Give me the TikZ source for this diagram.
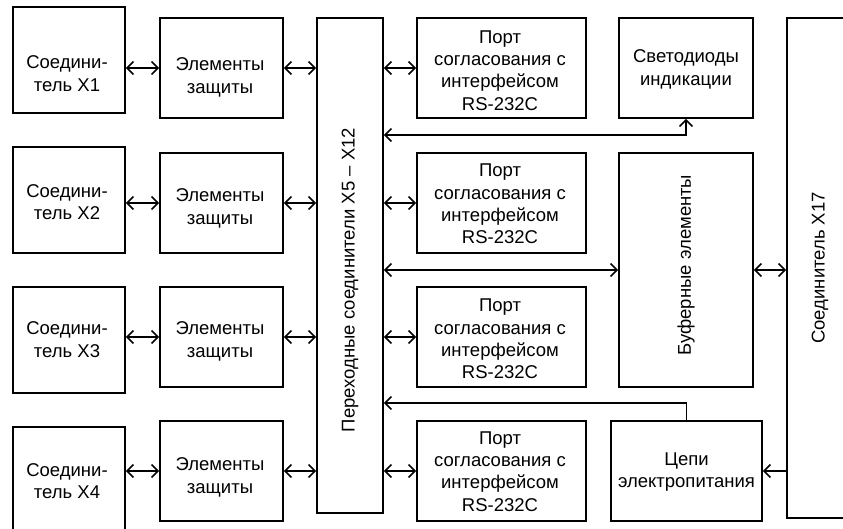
\documentclass[tikz,border=0pt]{standalone}
\usepackage{fontspec}
\setmainfont{Liberation Sans}
\usetikzlibrary{arrows.meta,calc}
\begin{document}
\begin{tikzpicture}[x=1pt,y=-1pt,
  blk/.style 2 args={draw, line width=1.6pt, inner sep=0pt,
                     minimum width=#1, minimum height=#2},
  lbl/.style={font=\fontsize{18.5}{22.3}\selectfont, align=center, inner sep=0pt},
  bi/.style={line width=1.6pt, {Straight Barb[length=6.5pt,width=13pt]}-{Straight Barb[length=6.5pt,width=13pt]}},
  one/.style={line width=1.6pt, -{Straight Barb[length=6.5pt,width=13pt]}}]
\useasboundingbox (0,0) rectangle (843,528);
\clip (0,0) rectangle (843,528);

% connectors X1..X4
\node[blk={112pt}{106pt}] (c1) at (69,60) {};
\node[blk={112pt}{106pt}] (c2) at (69,200) {};
\node[blk={112pt}{106pt}] (c3) at (69,340) {};
\node[blk={112pt}{106pt}] (c4) at (69,480) {};
\node[lbl] (tc1) at (67,73.5) {Соедини-\\тель X1};
\node[lbl] (tc2) at (67,202) {Соедини-\\тель X2};
\node[lbl] (tc3) at (67,339.5) {Соедини-\\тель X3};
\node[lbl] (tc4) at (67,481) {Соедини-\\тель X4};

% protection elements
\node[blk={123pt}{100pt}] (e1) at (221.5,68) {};
\node[blk={123pt}{100pt}] (e2) at (221.5,203) {};
\node[blk={123pt}{100pt}] (e3) at (221.5,337) {};
\node[blk={123pt}{100pt}] (e4) at (221.5,471) {};
\node[lbl] (te1) at (220,77.5) {Элементы\\защиты};
\node[lbl] (te2) at (220,208.5) {Элементы\\защиты};
\node[lbl] (te3) at (220,341.5) {Элементы\\защиты};
\node[lbl] (te4) at (220,477.5) {Элементы\\защиты};

% transition connectors
\node[blk={66pt}{495pt}] (T) at (350,265.5) {};
\node[lbl, rotate=90] (tT) at (350,280) {Переходные соединители X5 – X12};

% RS-232C ports
\node[blk={169pt}{100pt}] (p1) at (501.5,68) {};
\node[blk={169pt}{100pt}] (p2) at (501.5,203) {};
\node[blk={169pt}{100pt}] (p3) at (501.5,337) {};
\node[blk={169pt}{100pt}] (p4) at (501.5,471) {};
\node[lbl] (tp1) at (500,70.5) {Порт\\согласования с\\интерфейсом\\RS-232C};
\node[lbl] (tp2) at (500,204) {Порт\\согласования с\\интерфейсом\\RS-232C};
\node[lbl] (tp3) at (500,339) {Порт\\согласования с\\интерфейсом\\RS-232C};
\node[lbl] (tp4) at (500,471.5) {Порт\\согласования с\\интерфейсом\\RS-232C};

% right column
\node[blk={134pt}{100pt}] (led) at (686,68) {};
\node[lbl] (tled) at (686,69.5) {Светодиоды\\индикации};
\node[blk={134pt}{234pt}] (buf) at (686,270) {};
\node[lbl, rotate=90] (tbuf) at (686,265) {Буферные элементы};
\node[blk={151pt}{100pt}] (pw) at (686.5,471) {};
\node[lbl] (tpw) at (686.5,472) {Цепи\\электропитания};
\node[blk={64pt}{500pt}] (x17) at (819,268) {};
\node[lbl, rotate=90] (tx17) at (820,268) {Соединитель X17};

% links
\foreach \i in {1,2,3,4}{
  \draw[bi] (c\i.east |- e\i.west) -- (e\i.west);
  \draw[bi] (e\i.east) -- (T.west |- e\i.east);
  \draw[bi] (T.east |- p\i.west) -- (p\i.west);
}
\coordinate (ledj) at (686,135);
\draw[bi] (T.east |- ledj) -| (led.south);
\draw[bi] (T.east |- buf.west) -- (buf.west);
\draw[bi] (buf.east) -- (x17.west |- buf.east);
\coordinate (pwj) at (686.5,403);
\draw[one] (pw.north) |- (T.east |- pwj);
\draw[one] (x17.west |- pw.east) -- (pw.east);
\end{tikzpicture}
\end{document}
